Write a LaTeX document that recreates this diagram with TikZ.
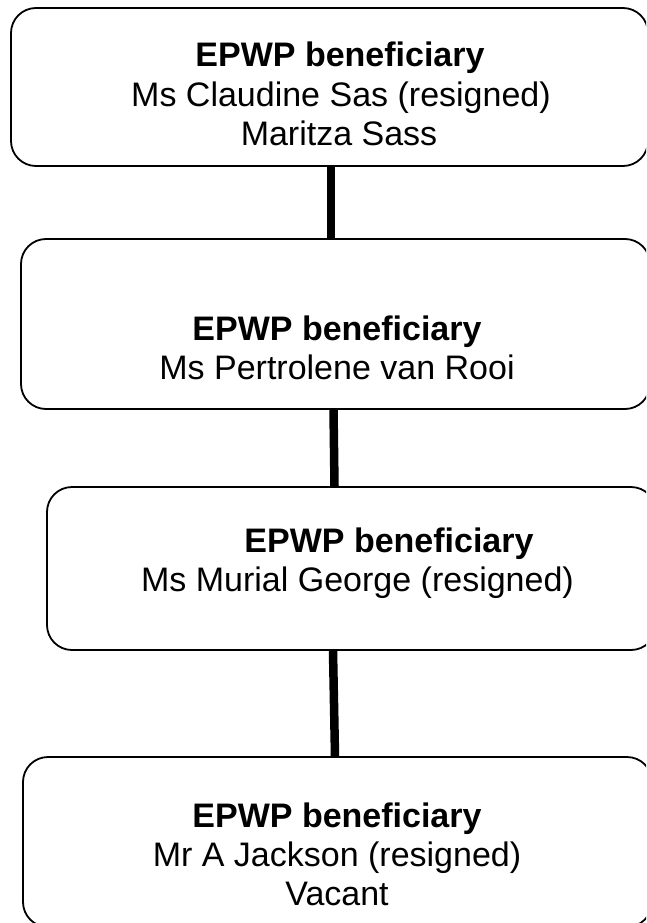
\documentclass[tikz,border=0pt]{standalone}
\usepackage{fontspec}
\setmainfont{Liberation Sans}
\begin{document}
\begin{tikzpicture}[x=1pt,y=-1pt,
  box/.style={draw, line width=1.8pt, rounded corners=25pt, inner sep=0pt},
  txt/.style={anchor=base, inner sep=0pt, font=\fontsize{34}{39}\selectfont},
  bold/.style={txt, font=\fontsize{34}{39}\selectfont\bfseries},
  conn/.style={line width=8.5pt}]
\useasboundingbox (0,0) rectangle (646,923);
\clip (0,0) rectangle (646,923);
\fill[white] (0,0) rectangle (646,923);
% boxes
\node[box, minimum width=637pt, minimum height=158pt] (b1) at (329.5,87) {};
\node[box, minimum width=629pt, minimum height=170pt] (b2) at (335.5,324) {};
\node[box, minimum width=609pt, minimum height=163pt] (b3) at (351.5,568.5) {};
\node[box, minimum width=629pt, minimum height=170pt] (b4) at (337.5,842) {};
% texts
\node[bold] (t1a) at (340,67) {EPWP beneficiary};
\node[txt]  (t1b) at (341,107) {Ms Claudine Sas (resigned)};
\node[txt]  (t1c) at (339,146) {Maritza Sass};
\node[bold] (t2a) at (337,340) {EPWP beneficiary};
\node[txt]  (t2b) at (337,379) {Ms Pertrolene van Rooi};
\node[bold] (t3a) at (389,552) {EPWP beneficiary};
\node[txt]  (t3b) at (357.5,591) {Ms Murial George (resigned)};
\node[bold] (t4a) at (337,827) {EPWP beneficiary};
\node[txt]  (t4b) at (337,866) {Mr A Jackson (resigned)};
\node[txt]  (t4c) at (337,905) {Vacant};
% connectors
\draw[conn] ([xshift=1.5pt]b1.south) -- ([xshift=-4.5pt]b2.north);
\draw[conn] ([xshift=-2pt]b2.south) -- ([xshift=-17pt]b3.north);
\draw[conn] ([xshift=-18.5pt]b3.south) -- ([xshift=-2.5pt]b4.north);
\end{tikzpicture}
\end{document}
